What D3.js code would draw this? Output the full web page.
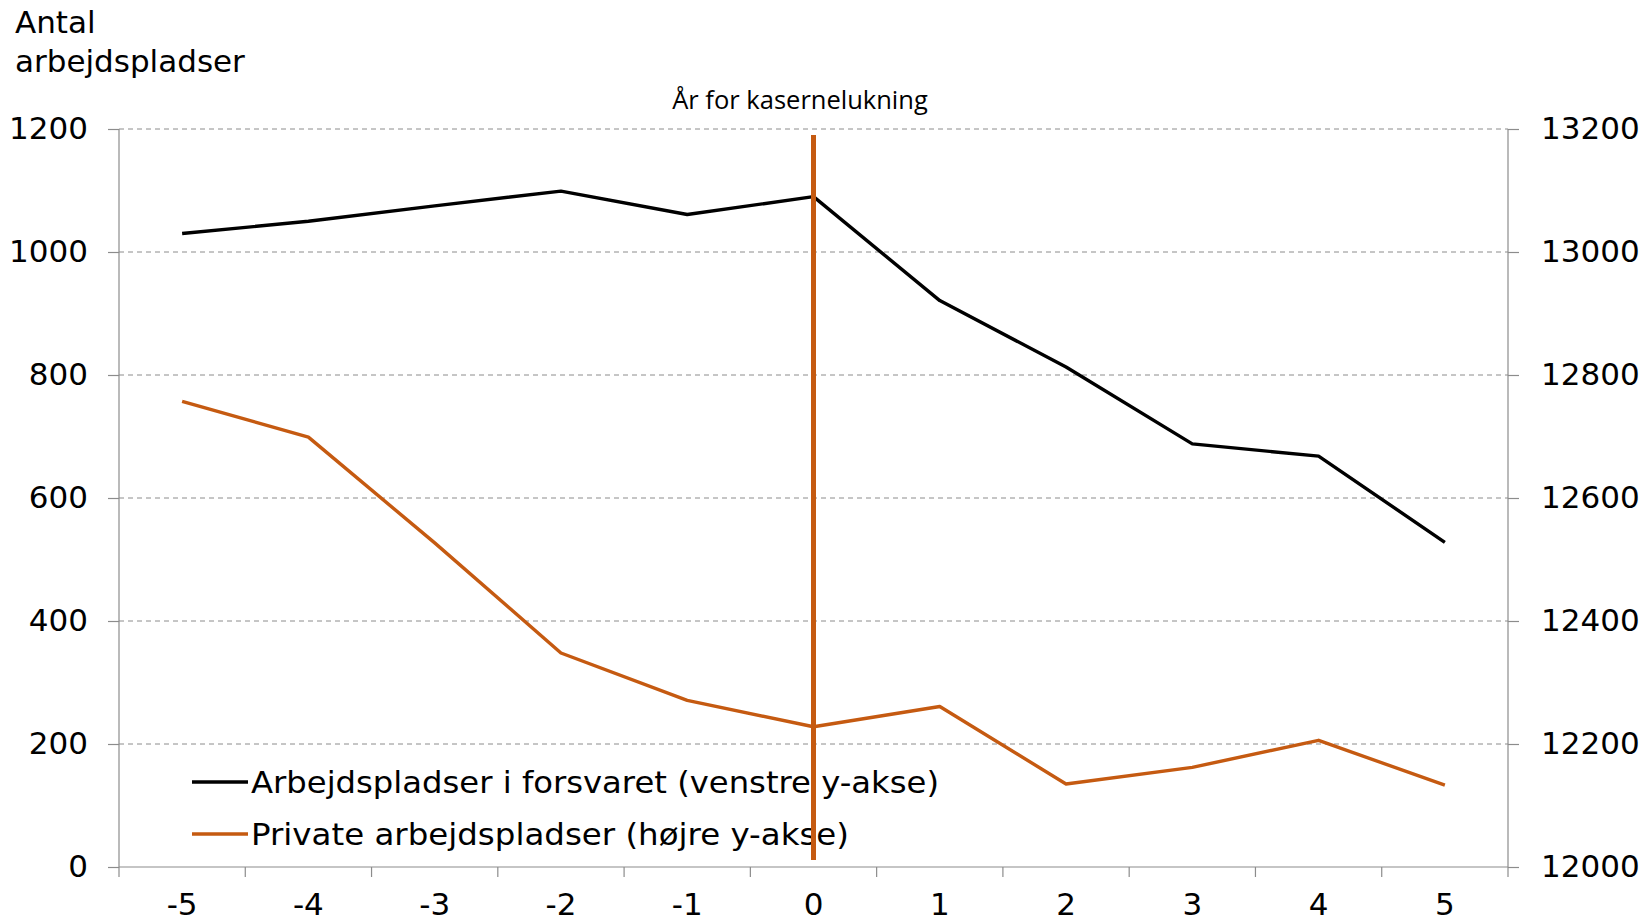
<!DOCTYPE html>
<html lang="da">
<head>
<meta charset="UTF-8">
<script src="https://cdn.jsdelivr.net/npm/d3@7"></script>
<style>
  body { margin: 0; background: #fff; }
  text { font-family: "DejaVu Sans", Verdana, sans-serif; fill: #000; }
  .grid line { stroke: #8c8c8c; stroke-dasharray: 5 4; stroke-width: 1; }
  .axis path, .axis line { stroke: #8c8c8c; stroke-width: 1.2; }
  .axis text { font-size: 31px; }
  .legend text { font-size: 31px; }
</style>
</head>
<body>
<script>
const years = [-5, -4, -3, -2, -1, 0, 1, 2, 3, 4, 5]
const forsvaret = [1030, 1050, 1075, 1099, 1061, 1090, 921, 813, 688, 668, 528]
const privat = [12757, 12699, 12527, 12348, 12271, 12228, 12261, 12135, 12162, 12206, 12133]
const leftTicks = [0, 200, 400, 600, 800, 1000, 1200]
const rightTicks = [12000, 12200, 12400, 12600, 12800, 13000, 13200]
const seriesNames = ["Arbejdspladser i forsvaret (venstre y-akse)", "Private arbejdspladser (højre y-akse)"]
const closeYear = 0

const width = 1645, height = 923
const m = {left: 119, right: 1645 - 1508, top: 129, bottom: 923 - 867}
const orange = "#c55a11"

const svg = d3.select("body").append("svg")
    .attr("width", width)
    .attr("height", height)

const x = d3.scaleBand().domain(years).range([m.left, width - m.right])
const yL = d3.scaleLinear().domain([0, 1200]).range([height - m.bottom, m.top])
const yR = d3.scaleLinear().domain([12000, 13200]).range([height - m.bottom, m.top])

// gridlines
svg.append("g").classed("grid", true)
    .selectAll("line")
    .data(leftTicks.filter(d => d > 0))
    .join("line")
    .attr("x1", m.left).attr("x2", width - m.right)
    .attr("y1", d => yL(d)).attr("y2", d => yL(d))

// left axis
const gL = svg.append("g").classed("axis", true)
    .attr("transform", `translate(${m.left},0)`)
    .call(d3.axisLeft(yL).tickValues(leftTicks).tickFormat(d3.format("d"))
        .tickSize(11).tickSizeOuter(0).tickPadding(20))
gL.select(".domain").attr("d", `M0,${yL(1200)}V${yL(0)}`)

// right axis
const gR = svg.append("g").classed("axis", true)
    .attr("transform", `translate(${width - m.right},0)`)
    .call(d3.axisRight(yR).tickValues(rightTicks).tickFormat(d3.format("d"))
        .tickSize(11).tickSizeOuter(0).tickPadding(22))
gR.select(".domain").attr("d", `M0,${yR(13200)}V${yR(12000)}`)

// bottom axis, ticks between categories
const gB = svg.append("g").classed("axis", true)
    .attr("transform", `translate(0,${height - m.bottom})`)
gB.append("line").attr("x1", m.left).attr("x2", width - m.right)
gB.selectAll(".tk")
    .data(years.map(d => x(d)).concat([x(years[years.length - 1]) + x.bandwidth()]))
    .join("line").classed("tk", true)
    .attr("x1", d => d).attr("x2", d => d).attr("y1", 0).attr("y2", 10)
gB.selectAll("text")
    .data(years)
    .join("text")
    .attr("x", d => x(d) + x.bandwidth() / 2)
    .attr("y", 48)
    .attr("text-anchor", "middle")
    .text(d => d)

const cx = d => x(d) + x.bandwidth() / 2

// lines
svg.append("path")
    .datum(years.map((d, i) => [cx(d), yR(privat[i])]))
    .attr("fill", "none").attr("stroke", orange).attr("stroke-width", 3.4)
    .attr("stroke-linejoin", "round")
    .attr("d", d3.line())
svg.append("path")
    .datum(years.map((d, i) => [cx(d), yL(forsvaret[i])]))
    .attr("fill", "none").attr("stroke", "#000").attr("stroke-width", 3.4)
    .attr("stroke-linejoin", "round")
    .attr("d", d3.line())

// legend (text squeezed to the width in the original)
const lg = svg.append("g").classed("legend", true)
const lgRows = [{name: seriesNames[0], color: "#000", w: 688}, {name: seriesNames[1], color: orange, w: 598}]
lg.selectAll("g")
    .data(lgRows)
    .join("g")
    .attr("transform", (d, i) => `translate(192,${782 + i * 52})`)
    .each(function(d) {
        const g = d3.select(this)
        g.append("line").attr("x1", 0).attr("x2", 56).attr("stroke", d.color).attr("stroke-width", 3.4)
        g.append("text").attr("x", 59).attr("y", 11)
            .attr("textLength", d.w).attr("lengthAdjust", "spacingAndGlyphs")
            .text(d.name)
    })

// closing year marker
svg.append("line")
    .attr("x1", cx(closeYear)).attr("x2", cx(closeYear))
    .attr("y1", 135).attr("y2", 860)
    .attr("stroke", orange).attr("stroke-width", 5)
svg.append("text")
    .attr("x", 800).attr("y", 109)
    .attr("text-anchor", "middle")
    .style("font-family", "'Open Sans', sans-serif")
    .style("font-size", "25.5px")
    .text("År for kasernelukning")

// y title
svg.append("text")
    .attr("x", 16).attr("y", 33)
    .style("font-size", "31px")
    .selectAll("tspan")
    .data(["Antal", "arbejdspladser"])
    .join("tspan")
    .attr("x", 15)
    .attr("dy", (d, i) => i ? 39 : 0)
    .text(d => d)
</script>
</body>
</html>
